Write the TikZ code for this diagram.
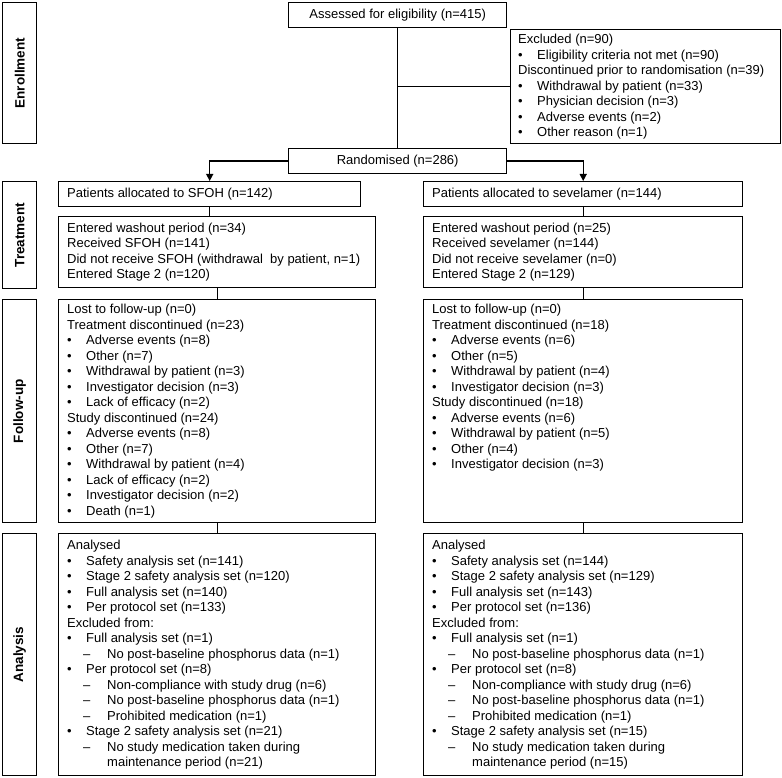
\documentclass[tikz,border=0pt]{standalone}
\usepackage{fontspec}
\setmainfont{Liberation Sans}
\usetikzlibrary{arrows.meta,positioning}

\newcommand{\bul}[1]{\makebox[19pt][l]{•}#1}
\newcommand{\dsh}[1]{\hspace*{16pt}\makebox[24pt][l]{–}#1}
\newcommand{\cont}[1]{\hspace*{40pt}#1}

\tikzset{
  frame/.style={draw, line width=1.4pt, anchor=north west, inner sep=0pt,
    font=\fontsize{13}{15.5}\selectfont},
  txt/.style={align=left, inner sep=0pt, font=\fontsize{13}{15.5}\selectfont},
  side/.style={rotate=90, inner sep=0pt, font=\fontsize{13.5}{15.5}\selectfont\bfseries},
  link/.style={line width=1.4pt},
  arr/.style={line width=1.4pt, -{Triangle[width=7pt,length=7pt]}}
}

\begin{document}
\begin{tikzpicture}[x=1pt,y=-1pt]
    \useasboundingbox (0,0) rectangle (782,778);

    % stage labels
    \node[frame, minimum width=34pt, minimum height=141pt] (enrol) at (2,2) {};
    \node[frame, minimum width=34pt, minimum height=107pt] (treat) at (2,181) {};
    \node[frame, minimum width=34pt, minimum height=223pt] (follow) at (2,299) {};
    \node[frame, minimum width=34pt, minimum height=242pt] (anal) at (2,533) {};
    \node[side] (enrol-t) at (enrol.center) {Enrollment};
    \node[side] (treat-t) at (treat.center) {Treatment};
    \node[side] (follow-t) at (follow.center) {Follow-up};
    \node[side] (anal-t) at (anal.center) {Analysis};

    % enrollment
    \node[frame, minimum width=218pt, minimum height=25pt] (assess) at (288,2) {Assessed for eligibility (n=415)};
    \node[frame, minimum width=270pt, minimum height=114pt] (excl) at (510,29) {};
    \node[frame, minimum width=218pt, minimum height=25pt] (rand) at (288,148) {Randomised (n=286)};
    \node[txt, anchor=west] (excl-t) at ([xshift=8pt]excl.west) {Excluded (n=90)\\
        \bul{Eligibility criteria not met (n=90)}\\
        Discontinued prior to randomisation (n=39)\\
        \bul{Withdrawal by patient (n=33)}\\
        \bul{Physician decision (n=3)}\\
        \bul{Adverse events (n=2)}\\
        \bul{Other reason (n=1)}};

    % boxes of the two arms
    \node[frame, minimum width=302pt, minimum height=25pt] (alloc1) at (58,181) {};
    \node[frame, minimum width=319pt, minimum height=25pt] (alloc2) at (423,181) {};
    \node[frame, minimum width=317pt, minimum height=71pt] (wash1) at (58,216) {};
    \node[frame, minimum width=319pt, minimum height=71pt] (wash2) at (423,216) {};
    \node[frame, minimum width=317pt, minimum height=223pt] (fu1) at (58,299) {};
    \node[frame, minimum width=319pt, minimum height=223pt] (fu2) at (423,299) {};
    \node[frame, minimum width=317pt, minimum height=242pt] (an1) at (58,533) {};
    \node[frame, minimum width=319pt, minimum height=242pt] (an2) at (423,533) {};

    % SFOH arm
    \node[txt, anchor=west] (alloc1-t) at ([xshift=9pt]alloc1.west) {Patients allocated to SFOH (n=142)};
    \node[txt, anchor=west] (wash1-t) at ([xshift=9pt]wash1.west) {Entered washout period (n=34)\\
        Received SFOH (n=141)\\
        Did not receive SFOH (withdrawal\ \ by patient, n=1)\\
        Entered Stage 2 (n=120)};
    \node[txt, anchor=west] (fu1-t) at ([xshift=9pt]fu1.west) {Lost to follow-up (n=0)\\
        Treatment discontinued (n=23)\\
        \bul{Adverse events (n=8)}\\
        \bul{Other (n=7)}\\
        \bul{Withdrawal by patient (n=3)}\\
        \bul{Investigator decision (n=3)}\\
        \bul{Lack of efficacy (n=2)}\\
        Study discontinued (n=24)\\
        \bul{Adverse events (n=8)}\\
        \bul{Other (n=7)}\\
        \bul{Withdrawal by patient (n=4)}\\
        \bul{Lack of efficacy (n=2)}\\
        \bul{Investigator decision (n=2)}\\
        \bul{Death (n=1)}};
    \node[txt, anchor=west] (an1-t) at ([xshift=9pt]an1.west) {Analysed\\
        \bul{Safety analysis set (n=141)}\\
        \bul{Stage 2 safety analysis set (n=120)}\\
        \bul{Full analysis set (n=140)}\\
        \bul{Per protocol set (n=133)}\\
        Excluded from:\\
        \bul{Full analysis set (n=1)}\\
        \dsh{No post-baseline phosphorus data (n=1)}\\
        \bul{Per protocol set (n=8)}\\
        \dsh{Non-compliance with study drug (n=6)}\\
        \dsh{No post-baseline phosphorus data (n=1)}\\
        \dsh{Prohibited medication (n=1)}\\
        \bul{Stage 2 safety analysis set (n=21)}\\
        \dsh{No study medication taken during}\\
        \cont{maintenance period (n=21)}};

    % sevelamer arm
    \node[txt, anchor=west] (alloc2-t) at ([xshift=9pt]alloc2.west) {Patients allocated to sevelamer (n=144)};
    \node[txt, anchor=west] (wash2-t) at ([xshift=9pt]wash2.west) {Entered washout period (n=25)\\
        Received sevelamer (n=144)\\
        Did not receive sevelamer (n=0)\\
        Entered Stage 2 (n=129)};
    \node[txt, anchor=north west] (fu2-t) at ([xshift=9pt]fu2.west |- fu1-t.north) {Lost to follow-up (n=0)\\
        Treatment discontinued (n=18)\\
        \bul{Adverse events (n=6)}\\
        \bul{Other (n=5)}\\
        \bul{Withdrawal by patient (n=4)}\\
        \bul{Investigator decision (n=3)}\\
        Study discontinued (n=18)\\
        \bul{Adverse events (n=6)}\\
        \bul{Withdrawal by patient (n=5)}\\
        \bul{Other (n=4)}\\
        \bul{Investigator decision (n=3)}};
    \node[txt, anchor=west] (an2-t) at ([xshift=9pt]an2.west) {Analysed\\
        \bul{Safety analysis set (n=144)}\\
        \bul{Stage 2 safety analysis set (n=129)}\\
        \bul{Full analysis set (n=143)}\\
        \bul{Per protocol set (n=136)}\\
        Excluded from:\\
        \bul{Full analysis set (n=1)}\\
        \dsh{No post-baseline phosphorus data (n=1)}\\
        \bul{Per protocol set (n=8)}\\
        \dsh{Non-compliance with study drug (n=6)}\\
        \dsh{No post-baseline phosphorus data (n=1)}\\
        \dsh{Prohibited medication (n=1)}\\
        \bul{Stage 2 safety analysis set (n=15)}\\
        \dsh{No study medication taken during}\\
        \cont{maintenance period (n=15)}};

    % connectors
    \draw[link] (assess.south) -- (rand.north);
    \draw[link] (assess.south |- excl.west) -- (excl.west);
    \draw[arr] (rand.west) -| (alloc1.north);
    \draw[arr] (rand.east) -| (alloc2.north);
    \draw[link] (alloc1.south) -- (alloc1.south |- wash1.north);
    \draw[link] (wash1.south) -- (fu1.north);
    \draw[link] (fu1.south) -- (an1.north);
    \draw[link] (alloc2.south) -- (wash2.north);
    \draw[link] (wash2.south) -- (fu2.north);
    \draw[link] (fu2.south) -- (an2.north);
\end{tikzpicture}
\end{document}
